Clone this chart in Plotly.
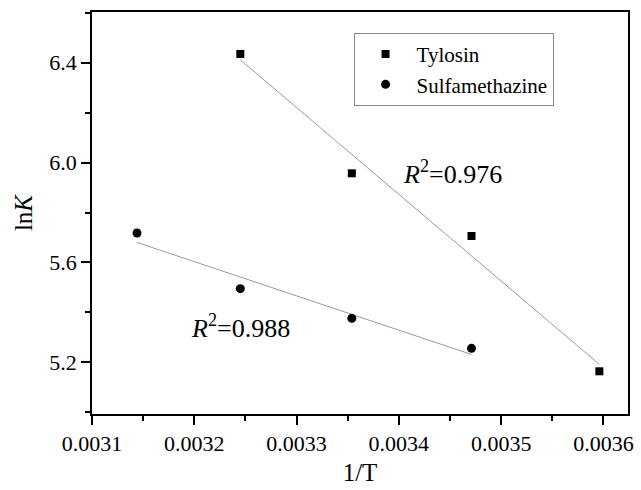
import numpy as np
import plotly.graph_objects as go

inv_T = [0.003144, 0.003245, 0.003354, 0.003471, 0.003596]
tylosin_x = inv_T[1:]
tylosin_y = [6.435, 5.957, 5.706, 5.164]
sulfa_x = inv_T[:4]
sulfa_y = [5.718, 5.495, 5.376, 5.256]
r2_labels = ["<i>R</i><sup>2</sup>=0.976", "<i>R</i><sup>2</sup>=0.988"]

FONT = "Liberation Serif"

fig = go.Figure()

for xs, ys in [(tylosin_x, tylosin_y), (sulfa_x, sulfa_y)]:
    k, b = np.polyfit(xs, ys, 1)
    fx = [min(xs), max(xs)]
    fig.add_trace(go.Scatter(x=fx, y=[k * v + b for v in fx], mode="lines",
                             line=dict(color="#9a9a9a", width=1), showlegend=False,
                             hoverinfo="skip"))

fig.add_trace(go.Scatter(x=tylosin_x, y=tylosin_y, mode="markers", name="Tylosin",
                         marker=dict(symbol="square", size=8, color="black")))
fig.add_trace(go.Scatter(x=sulfa_x, y=sulfa_y, mode="markers", name="Sulfamethazine",
                         marker=dict(symbol="circle", size=9, color="black")))

fig.add_annotation(x=0.003402, y=5.96, text=r2_labels[0], showarrow=False,
                   xanchor="left", yanchor="middle", font=dict(family=FONT, size=26, color="black"))
fig.add_annotation(x=0.003195, y=5.344, text=r2_labels[1], showarrow=False,
                   xanchor="left", yanchor="middle", font=dict(family=FONT, size=26, color="black"))

fig.update_layout(
    width=641, height=490,
    margin=dict(l=92, r=8, t=12, b=74),
    paper_bgcolor="white", plot_bgcolor="white",
    font=dict(family=FONT, color="black", size=22),
    legend=dict(x=0.488, y=0.948, xanchor="left", yanchor="top",
                bordercolor="#888888", borderwidth=1, bgcolor="white",
                font=dict(family=FONT, size=21), itemwidth=52, tracegroupgap=0),
    xaxis=dict(range=[0.0031, 0.003624], tickvals=[0.0031, 0.0032, 0.0033, 0.0034, 0.0035, 0.0036],
               ticktext=["0.0031", "0.0032", "0.0033", "0.0034", "0.0035", "0.0036"],
               ticks="outside", ticklen=9, tickwidth=1.5, tickcolor="black",
               minor=dict(dtick=0.00005, tick0=0.0031, ticks="outside", ticklen=5, tickcolor="black", showgrid=False),
               showline=True, linecolor="black", linewidth=1.5, mirror=True,
               showgrid=False, zeroline=False,
               title=dict(text="1/T", font=dict(family=FONT, size=25), standoff=8),
               tickfont=dict(family=FONT, size=22)),
    yaxis=dict(range=[4.993, 6.603], tickvals=[5.2, 5.6, 6.0, 6.4],
               ticktext=["5.2", "5.6", "6.0", "6.4"],
               ticks="outside", ticklen=9, tickwidth=1.5, tickcolor="black",
               minor=dict(dtick=0.2, tick0=5.0, ticks="outside", ticklen=5, tickcolor="black", showgrid=False),
               showline=True, linecolor="black", linewidth=1.5, mirror=True,
               showgrid=False, zeroline=False,
               title=dict(text="ln<i>K</i>", font=dict(family=FONT, size=25), standoff=10),
               tickfont=dict(family=FONT, size=22)),
)

fig.write_html("out.html")
